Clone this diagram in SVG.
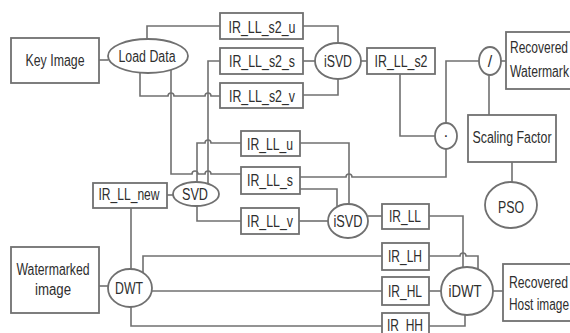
<svg xmlns="http://www.w3.org/2000/svg" width="570" height="333" viewBox="0 0 570 333">
<style>
.b{fill:#fff;stroke:#707070;stroke-width:1.8}
.c{fill:none;stroke:#707070;stroke-width:1.6}
.t{font-family:"Liberation Sans",Arial,sans-serif;font-size:16px;fill:#2e2e2e;text-anchor:middle}
.l{font-family:"Liberation Sans",Arial,sans-serif;font-size:16px;fill:#2e2e2e}
</style>
<rect width="570" height="333" fill="#fff"/>
<g id="connectors" class="c">
<path d="M99,60 H108"/>
<path d="M147,39 V26 H220"/>
<path d="M140,72 V96 H168 a3,3 0 0 1 6,0 H205 a3,3 0 0 1 6,0 H220"/>
<path d="M171,70 V174 H192 a3,3 0 0 1 6,0 H205 a3,3 0 0 1 6,0 H241"/>
<path d="M220,61 H208 V184"/>
<path d="M197,182 V143 H205 a3,3 0 0 1 6,0 H241"/>
<path d="M197,206 V221 H241"/>
<path d="M167,195 H173"/>
<path d="M131,208 V269"/>
<path d="M99,286 H108"/>
<path d="M143,273 V256 H382"/>
<path d="M152,291 H382"/>
<path d="M131,307 V326 H382"/>
<path d="M303,26 H338 V43"/>
<path d="M303,61 H315"/>
<path d="M303,95 H338 V79"/>
<path d="M361,61 H367"/>
<path d="M400,74 V136 H435"/>
<path d="M446,123 V61 H479"/>
<path d="M501,61 H506"/>
<path d="M489,75 V115"/>
<path d="M512,162 V182"/>
<path d="M446,149 V177 H352 a3,3 0 0 0 -6,0 H300"/>
<path d="M300,189 H337 V206"/>
<path d="M300,143 H349 V204"/>
<path d="M299,221 H328"/>
<path d="M368,216 H382"/>
<path d="M429,216 H463 V268"/>
<path d="M429,256 H460 a3,3 0 0 1 6,0 H478 V270"/>
<path d="M429,291 H441"/>
<path d="M429,326 H465 V315"/>
<path d="M493,291 H503"/>
</g>
<g id="key-image"><rect class="b" x="11" y="38" width="88" height="45"/><text class="t" x="55" y="66" textLength="59" lengthAdjust="spacingAndGlyphs">Key Image</text></g>
<g id="load-data"><ellipse class="b" cx="148" cy="56" rx="40" ry="17"/><text class="t" x="147" y="62" textLength="57" lengthAdjust="spacingAndGlyphs">Load Data</text></g>
<g id="ir-ll-s2-u"><rect class="b" x="220" y="13" width="83" height="26"/><text class="t" x="262" y="33" textLength="67" lengthAdjust="spacingAndGlyphs">IR_LL_s2_u</text></g>
<g id="ir-ll-s2-s"><rect class="b" x="220" y="48" width="83" height="26"/><text class="t" x="262" y="67" textLength="66" lengthAdjust="spacingAndGlyphs">IR_LL_s2_s</text></g>
<g id="ir-ll-s2-v"><rect class="b" x="220" y="83" width="83" height="25"/><text class="t" x="262" y="102" textLength="66" lengthAdjust="spacingAndGlyphs">IR_LL_s2_v</text></g>
<g id="isvd-1"><ellipse class="b" cx="338" cy="61" rx="23" ry="18"/><text class="t" x="338" y="67" textLength="28" lengthAdjust="spacingAndGlyphs">iSVD</text></g>
<g id="ir-ll-s2"><rect class="b" x="367" y="48" width="68" height="26"/><text class="t" x="401" y="67" textLength="53" lengthAdjust="spacingAndGlyphs">IR_LL_s2</text></g>
<g id="divide"><ellipse class="b" cx="490" cy="61" rx="11" ry="14"/><text class="t" x="490" y="67">/</text></g>
<g id="multiply"><ellipse class="b" cx="446" cy="136" rx="11" ry="13"/><text class="t" x="446" y="141">·</text></g>
<g id="recovered-watermark"><rect class="b" x="506" y="32" width="70" height="57"/><text class="l" x="510" y="53" textLength="58" lengthAdjust="spacingAndGlyphs">Recovered</text><text class="l" x="510" y="77" textLength="59" lengthAdjust="spacingAndGlyphs">Watermark</text></g>
<g id="scaling-factor"><rect class="b" x="468" y="115" width="88" height="47"/><text class="t" x="512" y="143" textLength="79" lengthAdjust="spacingAndGlyphs">Scaling Factor</text></g>
<g id="pso"><ellipse class="b" cx="511" cy="205" rx="26" ry="23"/><text class="t" x="511" y="213" textLength="26" lengthAdjust="spacingAndGlyphs">PSO</text></g>
<g id="ir-ll-u"><rect class="b" x="241" y="131" width="59" height="25"/><text class="t" x="270" y="150" textLength="46" lengthAdjust="spacingAndGlyphs">IR_LL_u</text></g>
<g id="ir-ll-s"><rect class="b" x="241" y="167" width="59" height="27"/><text class="t" x="270" y="186" textLength="46" lengthAdjust="spacingAndGlyphs">IR_LL_s</text></g>
<g id="ir-ll-v"><rect class="b" x="241" y="208" width="58" height="26"/><text class="t" x="270" y="227" textLength="46" lengthAdjust="spacingAndGlyphs">IR_LL_v</text></g>
<g id="svd"><ellipse class="b" cx="196" cy="194" rx="23" ry="12"/><text class="t" x="195" y="200" textLength="26" lengthAdjust="spacingAndGlyphs">SVD</text></g>
<g id="ir-ll-new"><rect class="b" x="93" y="183" width="74" height="25"/><text class="t" x="129" y="200" textLength="61" lengthAdjust="spacingAndGlyphs">IR_LL_new</text></g>
<g id="watermarked-image"><rect class="b" x="11" y="247" width="88" height="66"/><text class="t" x="53" y="275" textLength="73" lengthAdjust="spacingAndGlyphs">Watermarked</text><text class="t" x="53" y="295" textLength="36" lengthAdjust="spacingAndGlyphs">image</text></g>
<g id="dwt"><ellipse class="b" cx="130" cy="288" rx="22" ry="19"/><text class="t" x="129" y="294" textLength="28" lengthAdjust="spacingAndGlyphs">DWT</text></g>
<g id="isvd-2"><ellipse class="b" cx="348" cy="221" rx="20" ry="17"/><text class="t" x="348" y="227" textLength="29" lengthAdjust="spacingAndGlyphs">iSVD</text></g>
<g id="ir-ll"><rect class="b" x="382" y="204" width="47" height="25"/><text class="t" x="405" y="222" textLength="32" lengthAdjust="spacingAndGlyphs">IR_LL</text></g>
<g id="ir-lh"><rect class="b" x="382" y="243" width="47" height="27"/><text class="t" x="405" y="262" textLength="34" lengthAdjust="spacingAndGlyphs">IR_LH</text></g>
<g id="ir-hl"><rect class="b" x="382" y="277" width="47" height="28"/><text class="t" x="405" y="297" textLength="34" lengthAdjust="spacingAndGlyphs">IR_HL</text></g>
<g id="ir-hh"><rect class="b" x="382" y="313" width="47" height="26"/><text class="t" x="405" y="331" textLength="36" lengthAdjust="spacingAndGlyphs">IR_HH</text></g>
<g id="idwt"><ellipse class="b" cx="467" cy="291" rx="26" ry="24"/><text class="t" x="465" y="297" textLength="33" lengthAdjust="spacingAndGlyphs">iDWT</text></g>
<g id="recovered-host-image"><rect class="b" x="503" y="264" width="72" height="57"/><text class="l" x="509" y="288" textLength="59" lengthAdjust="spacingAndGlyphs">Recovered</text><text class="l" x="509" y="310" textLength="60" lengthAdjust="spacingAndGlyphs">Host image</text></g>
</svg>
